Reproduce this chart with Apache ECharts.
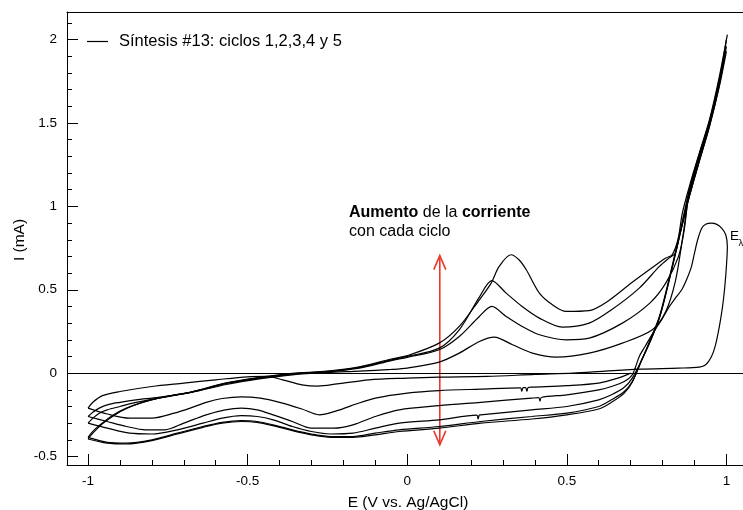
<!DOCTYPE html>
<html><head><meta charset="utf-8">
<script src="https://cdn.jsdelivr.net/npm/echarts@6/dist/echarts.min.js"></script>
<style>html,body{margin:0;padding:0;background:#fff}#c{width:743px;height:510px}</style>
</head><body><div id="c"></div>
<script>
const seriesName = 'Síntesis #13: ciclos 1,2,3,4 y 5';
const xTickValues = [-1, -0.5, 0, 0.5, 1];
const yTickValues = [-0.5, 0, 0.5, 1, 1.5, 2];
const xTitle = 'E (V vs. Ag/AgCl)';
const yTitle = 'I (mA)';

// initial cathodic sweep
const initialSweep = [[0.70,0.0],[0.66,-0.03],[0.60,-0.06],[0.50,-0.075],[0.39,-0.084],[0.379,-0.086],[0.375,-0.108],[0.371,-0.087],[0.363,-0.087],[0.359,-0.108],[0.355,-0.088],[0.23,-0.096],[0.10,-0.105],[0.0,-0.12],[-0.10,-0.15],[-0.16,-0.185],[-0.22,-0.225],[-0.276,-0.25],[-0.33,-0.215],[-0.40,-0.175],[-0.46,-0.15],[-0.52,-0.142],[-0.58,-0.152],[-0.63,-0.175],[-0.68,-0.21],[-0.73,-0.24],[-0.80,-0.27],[-0.87,-0.27],[-0.94,-0.245],[-1.0,-0.21]];

// cycle 1: forward with nucleation loop, then reverse
const cycle1 = [[-1.0,-0.21],[-0.985,-0.175],[-0.955,-0.135],[-0.90,-0.11],[-0.80,-0.08],[-0.70,-0.06],[-0.60,-0.04],[-0.50,-0.022],[-0.44,-0.02],[-0.39,-0.04],[-0.33,-0.07],[-0.28,-0.078],[-0.22,-0.065],[-0.12,-0.04],[0.0,-0.03],[0.10,-0.024],[0.25,-0.02],[0.40,-0.008],[0.52,0.0],[0.62,0.012],[0.73,0.024],[0.85,0.03],[0.915,0.036],[0.935,0.05],[0.953,0.098],[0.966,0.17],[0.978,0.28],[0.988,0.40],[0.995,0.52],[1.0,0.64],[1.003,0.76],[0.998,0.83],[0.985,0.87],[0.97,0.892],[0.953,0.9],[0.935,0.893],[0.923,0.87],[0.91,0.8],[0.90,0.72],[0.89,0.636],[0.875,0.56],[0.86,0.5],[0.84,0.45],[0.82,0.396],[0.80,0.33],[0.77,0.24],[0.745,0.16],[0.727,0.1],[0.705,-0.01],[0.68,-0.05],[0.64,-0.08],[0.60,-0.10],[0.50,-0.13],[0.42,-0.146],[0.416,-0.168],[0.412,-0.147],[0.39,-0.15],[0.23,-0.175],[0.10,-0.195],[-0.025,-0.22],[-0.10,-0.26],[-0.17,-0.31],[-0.23,-0.33],[-0.30,-0.33],[-0.36,-0.29],[-0.42,-0.25],[-0.47,-0.22],[-0.52,-0.21],[-0.57,-0.22],[-0.63,-0.25],[-0.70,-0.30],[-0.76,-0.34],[-0.82,-0.34],[-0.88,-0.32],[-0.94,-0.29],[-1.0,-0.26]];

const cycle2 = [[-1.0,-0.26],[-0.985,-0.235],[-0.965,-0.21],[-0.94,-0.19],[-0.90,-0.175],[-0.85,-0.16],[-0.78,-0.145],[-0.674,-0.114],[-0.567,-0.068],[-0.464,-0.035],[-0.36,-0.01],[-0.25,0.004],[-0.15,0.012],[-0.05,0.022],[0.0,0.03],[0.10,0.066],[0.163,0.12],[0.226,0.19],[0.273,0.216],[0.33,0.17],[0.392,0.12],[0.467,0.096],[0.57,0.12],[0.674,0.18],[0.768,0.26],[0.81,0.37],[0.84,0.55],[0.862,0.8],[0.884,1.08],[0.915,1.3],[0.947,1.5],[0.978,1.74],[1.0,1.93],[0.978,1.72],[0.947,1.48],[0.915,1.27],[0.884,1.06],[0.853,0.82],[0.821,0.56],[0.79,0.33],[0.759,0.18],[0.735,0.08],[0.705,-0.03],[0.68,-0.085],[0.64,-0.13],[0.60,-0.16],[0.50,-0.20],[0.39,-0.22],[0.23,-0.25],[0.226,-0.251],[0.222,-0.275],[0.218,-0.252],[0.10,-0.28],[-0.025,-0.30],[-0.10,-0.33],[-0.17,-0.36],[-0.24,-0.365],[-0.30,-0.35],[-0.36,-0.32],[-0.42,-0.28],[-0.47,-0.26],[-0.52,-0.255],[-0.58,-0.27],[-0.64,-0.30],[-0.72,-0.34],[-0.80,-0.365],[-0.87,-0.36],[-0.94,-0.33],[-1.0,-0.30]];

const cycle3 = [[-1.0,-0.30],[-0.985,-0.27],[-0.965,-0.24],[-0.94,-0.22],[-0.90,-0.20],[-0.85,-0.175],[-0.78,-0.15],[-0.674,-0.114],[-0.567,-0.062],[-0.464,-0.03],[-0.36,-0.006],[-0.25,0.008],[-0.15,0.03],[-0.05,0.075],[0.0,0.095],[0.10,0.14],[0.163,0.22],[0.226,0.34],[0.265,0.40],[0.31,0.34],[0.36,0.28],[0.414,0.23],[0.498,0.20],[0.57,0.21],[0.674,0.30],[0.76,0.42],[0.81,0.54],[0.85,0.70],[0.868,0.86],[0.884,1.1],[0.915,1.31],[0.947,1.51],[0.978,1.76],[1.0,1.96],[0.978,1.73],[0.947,1.48],[0.915,1.27],[0.884,1.06],[0.853,0.82],[0.821,0.56],[0.79,0.33],[0.759,0.18],[0.735,0.08],[0.705,-0.05],[0.68,-0.11],[0.64,-0.16],[0.60,-0.20],[0.50,-0.24],[0.39,-0.26],[0.23,-0.29],[0.10,-0.32],[-0.025,-0.34],[-0.10,-0.36],[-0.17,-0.38],[-0.24,-0.38],[-0.30,-0.365],[-0.36,-0.34],[-0.42,-0.31],[-0.47,-0.29],[-0.52,-0.285],[-0.58,-0.295],[-0.64,-0.32],[-0.72,-0.36],[-0.80,-0.40],[-0.88,-0.42],[-0.94,-0.415],[-1.0,-0.385]];

const cycle4 = [[-1.0,-0.385],[-0.99,-0.36],[-0.975,-0.33],[-0.956,-0.30],[-0.92,-0.25],[-0.88,-0.21],[-0.83,-0.175],[-0.78,-0.15],[-0.674,-0.112],[-0.567,-0.06],[-0.464,-0.028],[-0.36,-0.004],[-0.25,0.01],[-0.15,0.035],[-0.05,0.08],[0.0,0.10],[0.10,0.15],[0.163,0.26],[0.226,0.456],[0.265,0.555],[0.31,0.48],[0.36,0.40],[0.414,0.33],[0.486,0.276],[0.57,0.30],[0.64,0.38],[0.727,0.51],[0.79,0.64],[0.82,0.69],[0.84,0.72],[0.855,0.85],[0.872,1.0],[0.884,1.1],[0.915,1.31],[0.947,1.51],[0.978,1.76],[1.0,2.0],[0.978,1.74],[0.947,1.49],[0.915,1.28],[0.884,1.07],[0.853,0.83],[0.821,0.57],[0.79,0.34],[0.759,0.19],[0.735,0.08],[0.705,-0.055],[0.68,-0.12],[0.64,-0.175],[0.60,-0.215],[0.50,-0.25],[0.39,-0.275],[0.23,-0.30],[0.10,-0.33],[-0.025,-0.35],[-0.10,-0.37],[-0.17,-0.385],[-0.24,-0.385],[-0.30,-0.37],[-0.36,-0.345],[-0.42,-0.315],[-0.47,-0.295],[-0.52,-0.29],[-0.58,-0.30],[-0.64,-0.325],[-0.72,-0.365],[-0.80,-0.405],[-0.88,-0.425],[-0.94,-0.42],[-1.0,-0.395]];

const cycle5 = [[-1.0,-0.395],[-0.99,-0.37],[-0.975,-0.34],[-0.956,-0.305],[-0.92,-0.255],[-0.88,-0.212],[-0.83,-0.176],[-0.78,-0.15],[-0.674,-0.112],[-0.567,-0.058],[-0.464,-0.026],[-0.36,-0.002],[-0.25,0.012],[-0.15,0.038],[-0.05,0.085],[0.0,0.105],[0.10,0.18],[0.163,0.28],[0.226,0.44],[0.263,0.54],[0.288,0.64],[0.325,0.71],[0.35,0.68],[0.373,0.62],[0.414,0.48],[0.455,0.41],[0.498,0.37],[0.57,0.375],[0.624,0.425],[0.705,0.545],[0.78,0.65],[0.81,0.69],[0.83,0.71],[0.848,0.8],[0.862,0.96],[0.884,1.12],[0.915,1.32],[0.947,1.52],[0.978,1.78],[1.003,2.03]];

const cycles = [initialSweep, cycle1, cycle2, cycle3, cycle4, cycle5];
const arrowSpan = [[0.102, 0.705, -0.43]];

const FONT = "'Liberation Sans', Arial, Helvetica, sans-serif";
const xMinor = [], yMinor = [];
for (let i = -10; i <= 10; i++) xMinor.push(i / 10);
for (let i = -5; i <= 21; i++) yMinor.push(i / 10);

const xr = { min: -1.066, max: 1.052 };
const yr = { min: -0.551, max: 2.166 };

const chart = echarts.init(document.getElementById('c'), null, { renderer: 'canvas' });

const lineSeries = cycles.map((d, i) => ({
  name: seriesName, type: 'line', data: d, xAxisIndex: 0, yAxisIndex: 0,
  symbol: 'none', showSymbol: false, smooth: 0.3, animation: false, silent: true,
  lineStyle: { color: '#000', width: 1.2 }, itemStyle: { color: '#000' },
  markLine: i === 0 ? { silent: true, symbol: 'none', animation: false, label: { show: false },
    lineStyle: { color: '#000', width: 1, type: 'solid' }, data: [{ yAxis: 0 }] } : undefined
}));

chart.setOption({
  animation: false,
  backgroundColor: '#fff',
  grid: { left: 67, right: 0, top: 12, bottom: 45, show: false, containLabel: false },
  legend: {
    data: [seriesName], left: 82, top: 28, icon: 'rect', itemWidth: 21, itemHeight: 1.2,
    textStyle: { fontFamily: FONT, fontSize: 16.5, color: '#000', padding: [0, 0, 0, 6] },
    selectedMode: false
  },
  xAxis: [
    { type: 'value', position: 'bottom', min: xr.min, max: xr.max,
      axisLine: { show: true, onZero: false, lineStyle: { color: '#000', width: 1 } },
      axisTick: { show: true, inside: true, length: 11, customValues: xTickValues, lineStyle: { color: '#000' } },
      axisLabel: { show: true, customValues: xTickValues, margin: 9, color: '#000', fontFamily: FONT, fontSize: 13.5, formatter: v => String(v) },
      splitLine: { show: false } },
    { type: 'value', position: 'bottom', min: xr.min, max: xr.max,
      axisLine: { show: false, onZero: false },
      axisTick: { show: true, inside: true, length: 5, customValues: xMinor, lineStyle: { color: '#000' } },
      axisLabel: { show: false }, splitLine: { show: false } },
    { type: 'value', position: 'top', min: xr.min, max: xr.max,
      axisLine: { show: true, onZero: false, lineStyle: { color: '#000', width: 1 } },
      axisTick: { show: false }, axisLabel: { show: false }, splitLine: { show: false } }
  ],
  yAxis: [
    { type: 'value', position: 'left', min: yr.min, max: yr.max,
      axisLine: { show: true, onZero: false, lineStyle: { color: '#000', width: 1 } },
      axisTick: { show: true, inside: true, length: 11, customValues: yTickValues, lineStyle: { color: '#000' } },
      axisLabel: { show: true, customValues: yTickValues, margin: 10, color: '#000', fontFamily: FONT, fontSize: 13.5, formatter: v => String(v) },
      splitLine: { show: false } },
    { type: 'value', position: 'left', min: yr.min, max: yr.max,
      axisLine: { show: false, onZero: false },
      axisTick: { show: true, inside: true, length: 5, customValues: yMinor, lineStyle: { color: '#000' } },
      axisLabel: { show: false }, splitLine: { show: false } }
  ],
  series: lineSeries.concat([{
    type: 'custom', name: 'arrow', xAxisIndex: 0, yAxisIndex: 0, silent: true, animation: false,
    data: arrowSpan,
    renderItem(params, api) {
      const top = api.coord([api.value(0), api.value(1)]);
      const bot = api.coord([api.value(0), api.value(2)]);
      const w = 6, h = 14;
      const style = { stroke: '#e8392b', lineWidth: 1.6, fill: null };
      return { type: 'group', children: [
        { type: 'line', shape: { x1: top[0], y1: top[1], x2: bot[0], y2: bot[1] }, style },
        { type: 'polyline', shape: { points: [[top[0] - w, top[1] + h], [top[0], top[1]], [top[0] + w, top[1] + h]] }, style },
        { type: 'polyline', shape: { points: [[bot[0] - w, bot[1] - h], [bot[0], bot[1]], [bot[0] + w, bot[1] - h]] }, style }
      ]};
    }
  }]),
  graphic: [
    { type: 'text', x: 20, y: 240, rotation: Math.PI / 2, silent: true,
      style: { text: yTitle, fill: '#000', font: '15.5px ' + FONT, align: 'center', verticalAlign: 'middle' } },
    { type: 'text', x: 408, y: 502.5, silent: true,
      style: { text: xTitle, fill: '#000', font: '15.5px ' + FONT, align: 'center', verticalAlign: 'middle' } },
    { type: 'text', x: 349, y: 203.5, silent: true,
      style: { text: '{b|Aumento}{n| de la }{b|corriente}\n{n|con cada ciclo}', fill: '#000', align: 'left', verticalAlign: 'top',
        rich: { b: { fontWeight: 'bold', fontSize: 16, fontFamily: FONT, lineHeight: 19, fill: '#000' },
                n: { fontSize: 16, fontFamily: FONT, lineHeight: 19, fill: '#000' } } } },
    { type: 'text', x: 730, y: 236, silent: true,
      style: { text: 'E', fill: '#000', font: '13.5px ' + FONT, align: 'left', verticalAlign: 'middle' } },
    { type: 'text', x: 738.5, y: 243, silent: true,
      style: { text: 'λ', fill: '#000', font: '9.5px ' + FONT, align: 'left', verticalAlign: 'middle' } }
  ]
});
</script></body></html>
